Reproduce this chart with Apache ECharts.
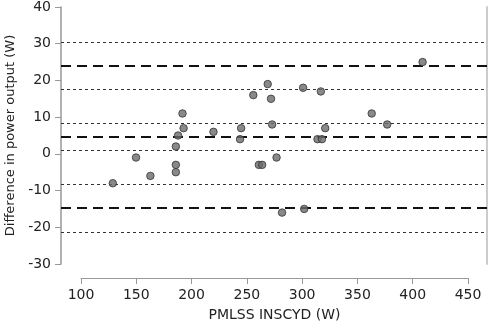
<!DOCTYPE html>
<html>
<head>
<meta charset="utf-8">
<script src="https://cdn.jsdelivr.net/npm/echarts@6/dist/echarts.min.js"></script>
<style>
    html, body { margin: 0; padding: 0; background: #fff; }
    #chart { width: 489px; height: 329px; }
</style>
</head>
<body>
<div id="chart"></div>
<script>
    // PMLSS INSCYD (W) vs difference in power output (W)
    var xValues = [129, 150, 163, 186, 186, 186, 188, 192, 193, 220,
                   244, 245, 256, 261, 264, 269, 272, 273, 277, 282,
                   301, 302, 314, 317, 318, 321, 363, 377, 409];
    var yValues = [-8, -1, -6, 2, -3, -5, 5, 11, 7, 6,
                   4, 7, 16, -3, -3, 19, 15, 8, -1, -16,
                   18, -15, 4, 17, 4, 7, 11, 8, 25];
    // bias and limits of agreement (dashed), their confidence limits (dotted)
    var meanLines = [24.0, 4.6, -14.8];
    var ciLines = [30.5, 17.5, 8.3, 0.9, -8.3, -21.3];
    var xTicks = [100, 450, 50];
    var yTicks = [-30, 40, 10];

    var chart = echarts.init(document.getElementById('chart'));
    var font = 'DejaVu Sans';

    var option = {
        animation: false,
        textStyle: { fontFamily: font },
        grid: [
            { left: 61, right: 2, top: 7, bottom: 65, outerBoundsMode: 'none' },
            { left: 81, right: 21, top: 270, height: 8, outerBoundsMode: 'none' }
        ],
        xAxis: [{
            gridIndex: 0, type: 'value', min: 82.2, max: 467.2,
            show: false
        }, {
            gridIndex: 1, type: 'value',
            min: xTicks[0], max: xTicks[1], interval: xTicks[2],
            name: 'PMLSS INSCYD (W)', nameLocation: 'middle', nameGap: 30,
            nameTextStyle: { fontSize: 14, color: '#222', fontFamily: font },
            axisLine: { lineStyle: { color: '#999', width: 1 } },
            axisTick: { show: true, length: 6, lineStyle: { color: '#999' } },
            axisLabel: { fontSize: 14, color: '#222', margin: 10, fontFamily: font },
            splitLine: { show: false }
        }],
        yAxis: [{
            gridIndex: 0, type: 'value',
            min: yTicks[0], max: yTicks[1], interval: yTicks[2],
            name: 'Difference in power output (W)', nameLocation: 'middle', nameGap: 40,
            nameTextStyle: { fontSize: 13, color: '#222', fontFamily: font },
            axisLine: { show: true, lineStyle: { color: '#999', width: 1.5 } },
            axisTick: { show: true, length: 6, lineStyle: { color: '#999' } },
            axisLabel: { fontSize: 14, color: '#222', margin: 10, fontFamily: font },
            splitLine: { show: false }
        }, {
            gridIndex: 0, type: 'value', position: 'right',
            min: yTicks[0], max: yTicks[1],
            axisLine: { show: true, lineStyle: { color: '#ccc', width: 2 } },
            axisTick: { show: false }, axisLabel: { show: false },
            splitLine: { show: false }
        }, {
            gridIndex: 1, type: 'value', show: false
        }],
        series: [{
            type: 'scatter',
            xAxisIndex: 0, yAxisIndex: 0,
            data: xValues.map(function (x, i) { return [x, yValues[i]]; }),
            symbolSize: 7.5,
            itemStyle: { color: '#6b6b6b', borderColor: '#333', borderWidth: 1 },
            z: 5,
            markLine: {
                silent: true, symbol: 'none', label: { show: false },
                data: meanLines.map(function (v) {
                    return { yAxis: v, lineStyle: { color: '#111', width: 2, type: [10, 6] } };
                }).concat(ciLines.map(function (v) {
                    return { yAxis: v, lineStyle: { color: '#333', width: 1, type: [3, 3] } };
                }))
            }
        }]
    };
    chart.setOption(option);
</script>
</body>
</html>
